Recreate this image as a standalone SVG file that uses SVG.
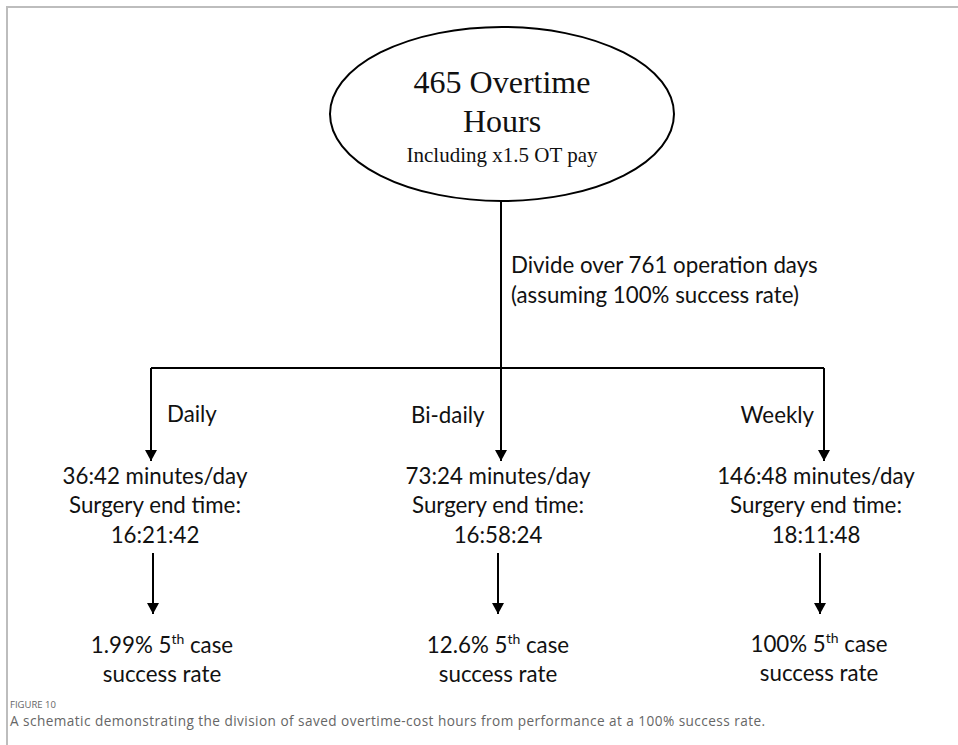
<svg xmlns="http://www.w3.org/2000/svg" width="958" height="745" viewBox="0 0 958 745">
  <style>
    .frame { stroke: #bdbdbd; stroke-width: 2; fill: none; }
    .edge { stroke: #000; stroke-width: 2; fill: none; }
    .serif { font-family: "Liberation Serif", "Times New Roman", serif; fill: #111; text-anchor: middle; }
    .sans { font-family: Lato, "Open Sans", "Liberation Sans", sans-serif; font-size: 22.3px; fill: #111; }
    .mid { text-anchor: middle; }
    .cap { font-family: "Open Sans", Lato, "Liberation Sans", sans-serif; fill: #666; }
  </style>
  <defs>
    <marker id="arrow" markerUnits="userSpaceOnUse" markerWidth="12" markerHeight="12" viewBox="0 0 12 12" refX="11" refY="6" orient="auto">
      <path d="M0,0 L11,6 L0,12 Z" fill="#000"/>
    </marker>
  </defs>

  <rect width="958" height="745" fill="#fff"/>
  <!-- page frame -->
  <path class="frame" d="M7,745 V7 H958"/>

  <!-- root -->
  <g id="total-hours">
    <ellipse cx="502" cy="114" rx="172" ry="87" fill="#fff" stroke="#000" stroke-width="2"/>
    <text class="serif" x="502" y="93" font-size="32">465 Overtime</text>
    <text class="serif" x="502" y="132" font-size="32">Hours</text>
    <text class="serif" x="502" y="162" font-size="21">Including x1.5 OT pay</text>
  </g>

  <!-- connectors -->
  <g id="connectors">
    <path class="edge" d="M501,201 V368"/>
    <path class="edge" d="M151,368 H824"/>
    <path class="edge" d="M151,368 V461" marker-end="url(#arrow)"/>
    <path class="edge" d="M501,368 V461" marker-end="url(#arrow)"/>
    <path class="edge" d="M824,368 V461" marker-end="url(#arrow)"/>
    <path class="edge" d="M153,553 V614" marker-end="url(#arrow)"/>
    <path class="edge" d="M498,553 V614" marker-end="url(#arrow)"/>
    <path class="edge" d="M820,553 V614" marker-end="url(#arrow)"/>
  </g>

  <!-- connector labels -->
  <g id="labels">
    <text class="sans" x="511" y="273">Divide over 761 operation days</text>
    <text class="sans" x="511" y="303">(assuming 100% success rate)</text>
    <text class="sans" x="167" y="422">Daily</text>
    <text class="sans" x="411" y="423">Bi-daily</text>
    <text class="sans" x="814" y="423" text-anchor="end">Weekly</text>
  </g>

  <g id="daily">
    <text class="sans mid" x="155" y="484">36:42 minutes/day</text>
    <text class="sans mid" x="155" y="513">Surgery end time:</text>
    <text class="sans mid" x="155" y="543">16:21:42</text>
  </g>
  <g id="bi-daily">
    <text class="sans mid" x="498" y="484">73:24 minutes/day</text>
    <text class="sans mid" x="498" y="513">Surgery end time:</text>
    <text class="sans mid" x="498" y="543">16:58:24</text>
  </g>
  <g id="weekly">
    <text class="sans mid" x="816" y="484">146:48 minutes/day</text>
    <text class="sans mid" x="816" y="513">Surgery end time:</text>
    <text class="sans mid" x="816" y="543">18:11:48</text>
  </g>

  <g id="daily-rate">
    <text class="sans mid" x="162" y="653">1.99% 5<tspan font-size="14" dy="-9">th</tspan><tspan dy="9"> case</tspan></text>
    <text class="sans mid" x="162" y="682">success rate</text>
  </g>
  <g id="bi-daily-rate">
    <text class="sans mid" x="498" y="653">12.6% 5<tspan font-size="14" dy="-9">th</tspan><tspan dy="9"> case</tspan></text>
    <text class="sans mid" x="498" y="682">success rate</text>
  </g>
  <g id="weekly-rate">
    <text class="sans mid" x="819" y="652">100% 5<tspan font-size="14" dy="-9">th</tspan><tspan dy="9"> case</tspan></text>
    <text class="sans mid" x="819" y="681">success rate</text>
  </g>

  <!-- figure caption -->
  <g id="caption">
    <text class="cap" x="10" y="708" font-size="9.5">FIGURE 10</text>
    <text class="cap" x="10" y="726" font-size="13.6" letter-spacing="0.45">A schematic demonstrating the division of saved overtime-cost hours from performance at a 100% success rate.</text>
  </g>
</svg>
